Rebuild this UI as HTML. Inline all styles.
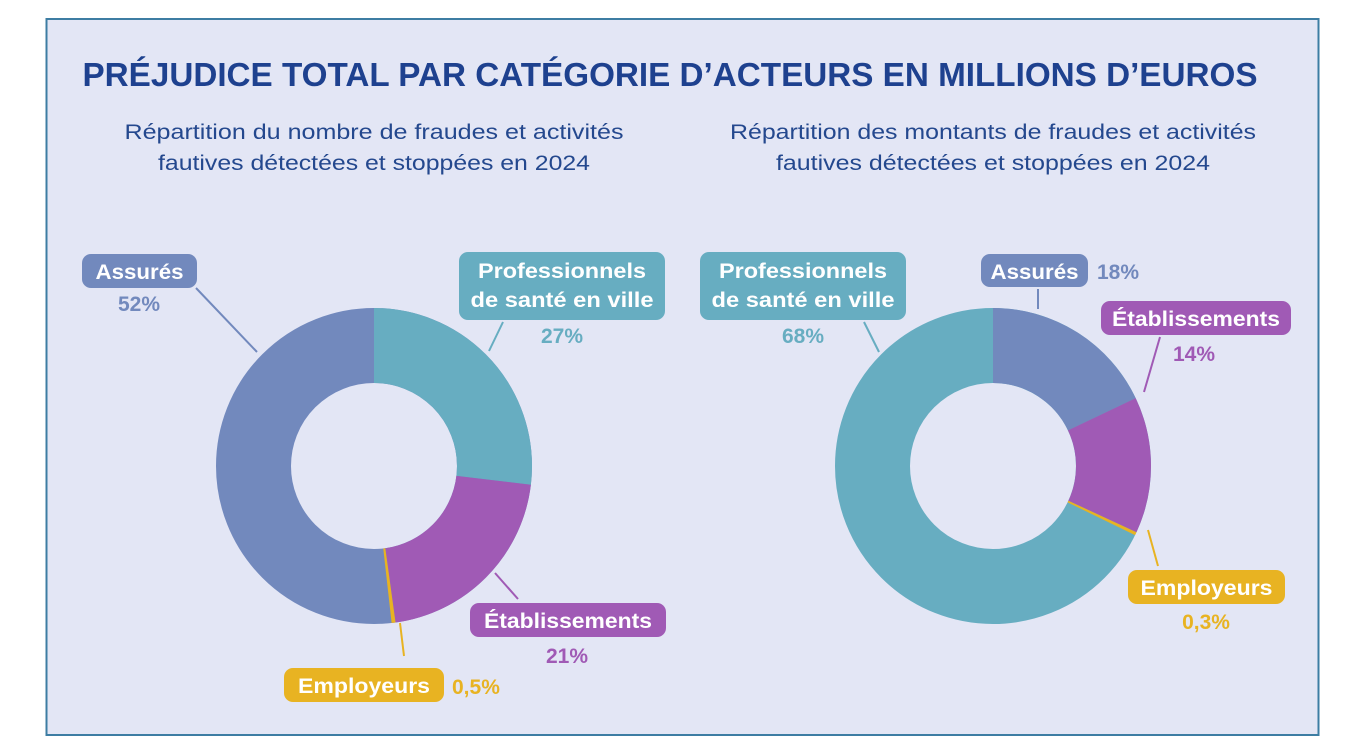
<!DOCTYPE html>
<html><head><meta charset="utf-8"><style>
html,body{margin:0;padding:0;background:#fff;}
svg{display:block;}
text{font-family:"Liberation Sans",sans-serif;}
.t{font-weight:bold;fill:#fff;font-size:21px;text-anchor:middle;}
.p{font-weight:bold;font-size:21px;}
</style></head><body>
<svg width="1362" height="747" viewBox="0 0 1362 747">
<rect x="0" y="0" width="1362" height="747" fill="#fff"/>
<rect x="46.5" y="19" width="1272" height="716" fill="#e3e6f5" stroke="#3d7da3" stroke-width="2"/>
<text x="670" y="86" font-size="33" font-weight="bold" fill="#1e418f" text-anchor="middle" textLength="1175" lengthAdjust="spacingAndGlyphs">PRÉJUDICE TOTAL PAR CATÉGORIE D’ACTEURS EN MILLIONS D’EUROS</text>
<g font-size="21" fill="#24488e" text-anchor="middle">
<text x="374" y="139" textLength="499" lengthAdjust="spacingAndGlyphs">Répartition du nombre de fraudes et activités</text>
<text x="374" y="170" textLength="432" lengthAdjust="spacingAndGlyphs">fautives détectées et stoppées en 2024</text>
<text x="993" y="139" textLength="526" lengthAdjust="spacingAndGlyphs">Répartition des montants de fraudes et activités</text>
<text x="993" y="170" textLength="434" lengthAdjust="spacingAndGlyphs">fautives détectées et stoppées en 2024</text>
</g>

<!-- Left donut C=753.98 -->
<g transform="translate(374,466) rotate(-90)" fill="none" stroke-width="75">
<circle r="120.5" stroke="#7289bd"/>
<circle r="120.5" stroke="#67adc1" stroke-dasharray="203.6 760" stroke-dashoffset="0"/>
<circle r="120.5" stroke="#a05ab5" stroke-dasharray="158.3 760" stroke-dashoffset="-203.6"/>
<circle r="120.5" stroke="#e8b322" stroke-dasharray="3 760" stroke-dashoffset="-361.9"/>
</g>
<!-- Right donut -->
<g transform="translate(993,466) rotate(-90)" fill="none" stroke-width="75">
<circle r="120.5" stroke="#67adc1"/>
<circle r="120.5" stroke="#7289bd" stroke-dasharray="135.7 760" stroke-dashoffset="0"/>
<circle r="120.5" stroke="#a05ab5" stroke-dasharray="105.6 760" stroke-dashoffset="-135.7"/>
<circle r="120.5" stroke="#e8b322" stroke-dasharray="2.5 760" stroke-dashoffset="-241.3"/>
</g>

<!-- leader lines -->
<g stroke-width="2" fill="none">
<line x1="196" y1="288" x2="257" y2="352" stroke="#7289bd"/>
<line x1="503" y1="322" x2="489" y2="351" stroke="#67adc1"/>
<line x1="495" y1="573" x2="518" y2="599" stroke="#a05ab5"/>
<line x1="400" y1="623" x2="404" y2="656" stroke="#e8b322"/>
<line x1="864" y1="322" x2="879" y2="352" stroke="#67adc1"/>
<line x1="1038" y1="289" x2="1038" y2="309" stroke="#7289bd"/>
<line x1="1160" y1="337" x2="1144" y2="392" stroke="#a05ab5"/>
<line x1="1148" y1="530" x2="1158" y2="566" stroke="#e8b322"/>
</g>

<!-- Left labels -->
<rect x="82" y="254" width="115" height="34" rx="9" fill="#7289bd"/>
<text class="t" x="139.5" y="279" textLength="88" lengthAdjust="spacingAndGlyphs">Assurés</text>
<text class="p" x="139" y="311" fill="#7289bd" text-anchor="middle">52%</text>

<rect x="459" y="252" width="206" height="68" rx="9" fill="#67adc1"/>
<text class="t" x="562" y="278" textLength="168" lengthAdjust="spacingAndGlyphs">Professionnels</text>
<text class="t" x="562" y="307" textLength="183" lengthAdjust="spacingAndGlyphs">de santé en ville</text>
<text class="p" x="562" y="343" fill="#67adc1" text-anchor="middle">27%</text>

<rect x="470" y="603" width="196" height="34" rx="9" fill="#a05ab5"/>
<text class="t" x="568" y="628" textLength="168" lengthAdjust="spacingAndGlyphs">Établissements</text>
<text class="p" x="567" y="663" fill="#a05ab5" text-anchor="middle">21%</text>

<rect x="284" y="668" width="160" height="34" rx="9" fill="#e8b322"/>
<text class="t" x="364" y="693" textLength="132" lengthAdjust="spacingAndGlyphs">Employeurs</text>
<text class="p" x="452" y="694" fill="#e8b322">0,5%</text>

<!-- Right labels -->
<rect x="700" y="252" width="206" height="68" rx="9" fill="#67adc1"/>
<text class="t" x="803" y="278" textLength="168" lengthAdjust="spacingAndGlyphs">Professionnels</text>
<text class="t" x="803" y="307" textLength="183" lengthAdjust="spacingAndGlyphs">de santé en ville</text>
<text class="p" x="803" y="343" fill="#67adc1" text-anchor="middle">68%</text>

<rect x="981" y="254" width="107" height="33" rx="9" fill="#7289bd"/>
<text class="t" x="1034.5" y="279" textLength="88" lengthAdjust="spacingAndGlyphs">Assurés</text>
<text class="p" x="1097" y="279" fill="#7289bd">18%</text>

<rect x="1101" y="301" width="190" height="34" rx="9" fill="#a05ab5"/>
<text class="t" x="1196" y="326" textLength="168" lengthAdjust="spacingAndGlyphs">Établissements</text>
<text class="p" x="1194" y="361" fill="#a05ab5" text-anchor="middle">14%</text>

<rect x="1128" y="570" width="157" height="34" rx="9" fill="#e8b322"/>
<text class="t" x="1206.5" y="595" textLength="132" lengthAdjust="spacingAndGlyphs">Employeurs</text>
<text class="p" x="1206" y="629" fill="#e8b322" text-anchor="middle">0,3%</text>
</svg>
</body></html>
